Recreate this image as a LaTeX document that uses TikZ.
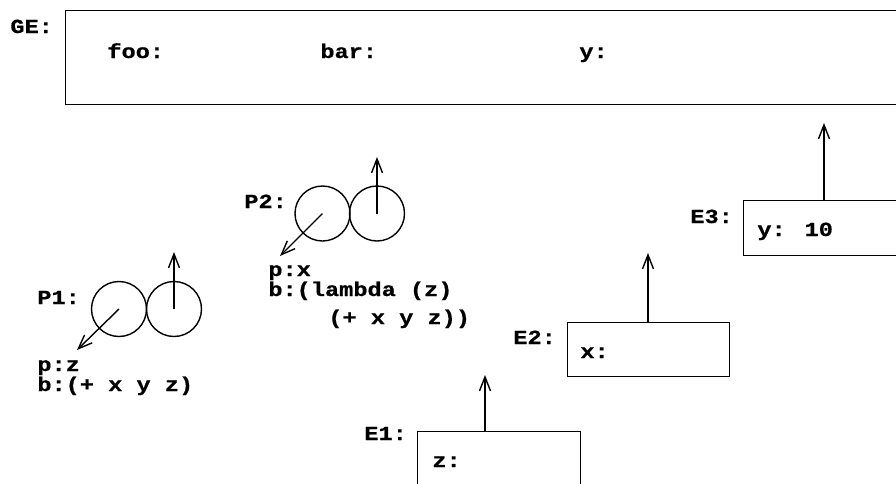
\documentclass[tikz,border=0pt]{standalone}
\usepackage{fontspec}
\newfontfamily\cour[FakeStretch=1.18,FakeBold=0.6]{Liberation Mono}
\usetikzlibrary{arrows.meta}
\tikzset{
  lbl/.style={anchor=base west, inner sep=0pt, font=\cour\bfseries\fontsize{10}{9}\selectfont},
  frame/.style={draw, line width=0.7pt, anchor=north west, inner sep=0pt},
  cell/.style={draw, circle, line width=0.7pt, minimum size=27.5pt, inner sep=0pt},
  ptr/.style={line width=0.7pt, -{Straight Barb[length=7pt,width=5.5pt,line width=0.7pt]}},
}
\begin{document}
\begin{tikzpicture}[x=0.5pt,y=-0.5pt]
\useasboundingbox (0,0) rectangle (896,483);
\clip (0,0) rectangle (896,483);
% GE
\node[frame, minimum width=417.5pt, minimum height=47pt] (GE) at (65,10) {};
\node[lbl] (GEl) at (10,33) {GE:};
\node[lbl] (foo) at (107,58) {foo:};
\node[lbl] (bar) at (320,58) {bar:};
\node[lbl] (yv) at (579,58) {y:};
% E3
\node[frame, minimum width=78.5pt, minimum height=27.5pt] (E3) at (743,200) {};
\node[lbl] (E3l) at (690,223) {E3:};
\node[lbl] (E3t) at (757,236) {y: 10};
\coordinate (e3p) at (824,123);
\draw[ptr] (e3p |- E3.north) -- (e3p);
% E2
\node[frame, minimum width=81pt, minimum height=27pt] (E2) at (567,322) {};
\node[lbl] (E2l) at (513,344) {E2:};
\node[lbl] (E2t) at (580,358) {x:};
\coordinate (e2p) at (648,253);
\draw[ptr] (e2p |- E2.north) -- (e2p);
% E1
\node[frame, minimum width=81.5pt, minimum height=40pt] (E1) at (417,431) {};
\node[lbl] (E1l) at (364,440) {E1:};
\node[lbl] (E1t) at (432,467) {z:};
\coordinate (e1p) at (485,375);
\draw[ptr] (e1p |- E1.north) -- (e1p);
% P1
\node[lbl] (P1l) at (37,304) {P1:};
\node[cell] (P1a) at (119,309) {};
\node[cell] (P1b) at (174,309) {};
\coordinate (p1up) at (174,252);
\coordinate (p1dn) at (77,350);
\draw[ptr] (P1b.center) -- (p1up);
\draw[ptr] (P1a.center) -- (p1dn);
\node[lbl] (P1p) at (37,371) {p:z};
\node[lbl] (P1b2) at (37,391) {b:(+ x y z)};
% P2
\node[lbl] (P2l) at (244,208) {P2:};
\node[cell] (P2a) at (322.5,213.5) {};
\node[cell] (P2b) at (377,213.5) {};
\coordinate (p2up) at (377,157);
\coordinate (p2dn) at (280,256);
\draw[ptr] (P2b.center) -- (p2up);
\draw[ptr] (P2a.center) -- (p2dn);
\node[lbl] (P2p) at (268,276) {p:x};
\node[lbl] (P2b2) at (268,296) {b:(lambda (z)};
\node[lbl] (P2b3) at (328,324) {(+ x y z))};
\end{tikzpicture}
\end{document}
